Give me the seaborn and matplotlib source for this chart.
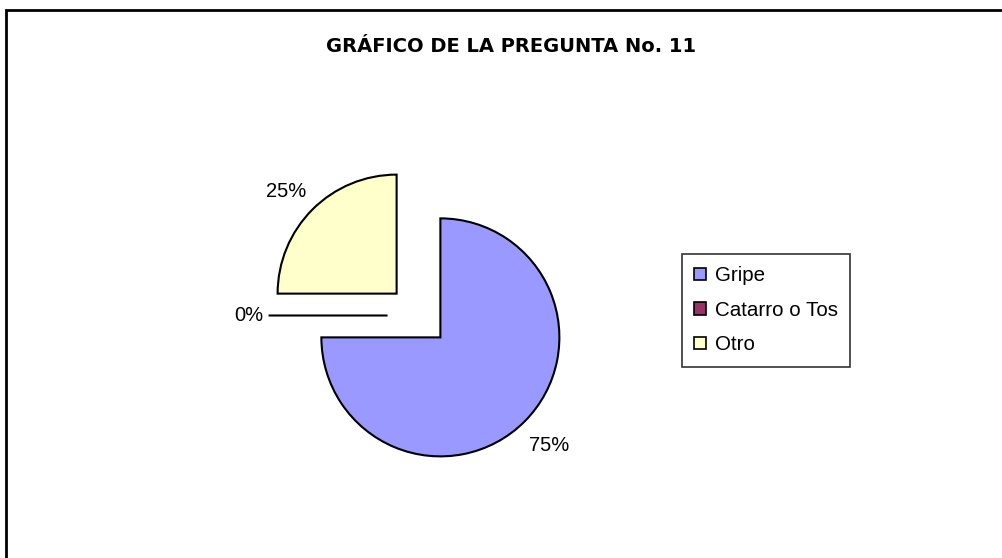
import matplotlib
matplotlib.use("Agg")
import matplotlib.pyplot as plt
import seaborn as sns
from matplotlib.patches import Patch, Rectangle

# Data
categories = ["Gripe", "Catarro o Tos", "Otro"]
values = [75, 0, 25]
colors = ["#9999FF", "#993366", "#FFFFCC"]
title = "GRÁFICO DE LA PREGUNTA No. 11"

sns.set_style("white")
plt.rcParams["font.family"] = ["Liberation Sans", "DejaVu Sans"]
plt.rcParams["text.color"] = "black"

fig = plt.figure(figsize=(10.03, 5.58), dpi=100)

# outer chart border (cut off at right and bottom)
fig.patches.append(Rectangle((6 / 1003, -0.1), 1.2, (558 - 10.5) / 558 + 0.1,
                             transform=fig.transFigure, fill=False,
                             edgecolor="black", linewidth=2))

# pie axes: 1 data unit = 119 px, centre at (418.5, 315.5) px from top-left
r = 119
cx, cy = 418.5, 315.5
ax = fig.add_axes([(cx - 2 * r) / 1003, (558 - cy - 2 * r) / 558,
                   4 * r / 1003, 4 * r / 558])

wedges, texts, autotexts = ax.pie(
    values,
    colors=colors,
    explode=[0.26, 0.26, 0.26],
    startangle=90,
    counterclock=False,
    autopct="%1.0f%%",
    pctdistance=1.29,
    wedgeprops=dict(edgecolor="black", linewidth=1.5),
    textprops=dict(fontsize=14.5, color="black"),
)
# the 0% label sits a little closer to its (empty) wedge
px, py = autotexts[1].get_position()
autotexts[1].set_position((px + 0.12, py))
px, py = autotexts[2].get_position()
autotexts[2].set_position((px - 0.02, py - 0.05))

ax.set_xlim(-2, 2)
ax.set_ylim(-2, 2)
ax.set_aspect("auto")
ax.axis("off")

fig.text(511 / 1003, 1 - 46 / 558, title, ha="center", va="center",
         fontsize=14, fontweight="bold", family="DejaVu Sans", color="black")

handles = [Patch(facecolor=c, edgecolor="black", linewidth=1.2) for c in colors]
leg = fig.legend(handles, categories, loc="upper left",
                 bbox_to_anchor=(682 / 1003, 1 - 254 / 558),
                 fontsize=14.8, frameon=True, fancybox=False,
                 handlelength=0.55, handleheight=0.55, handletextpad=0.45,
                 labelspacing=0.75, borderpad=0.6, borderaxespad=0)
leg.get_frame().set_edgecolor("black")
leg.get_frame().set_linewidth(1.2)
for t in leg.get_texts():
    t.set_color("black")

fig.savefig("out.png", dpi=100)
